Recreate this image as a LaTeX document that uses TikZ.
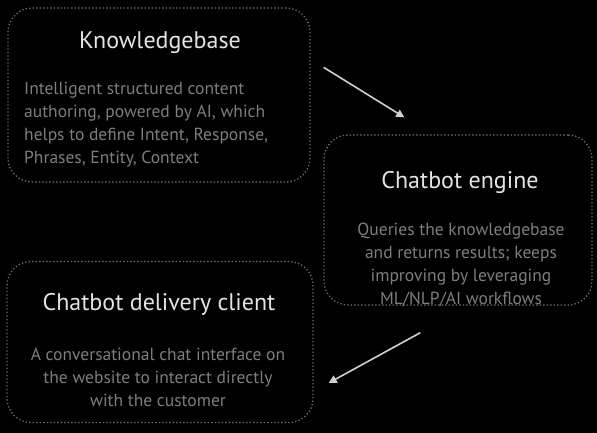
\documentclass[tikz,border=0pt]{standalone}
\usepackage{fontspec}
\setmainfont{PT Sans}
\usetikzlibrary{arrows.meta}
\definecolor{bg}{HTML}{000000}
\definecolor{head}{HTML}{E4E4E4}
\definecolor{muted}{HTML}{7E7E7E}
\definecolor{rim}{HTML}{6E6E6E}
\definecolor{arrowc}{HTML}{D0D0D0}
\tikzset{
  card/.style={draw=rim, line width=1.3pt, dash pattern=on 1.3pt off 2.2pt, rounded corners=24pt, inner sep=0pt},
  title/.style={text=head, font=\fontsize{24}{28}\selectfont},
  body/.style={text=muted, font=\fontsize{17.5}{23}\selectfont, inner sep=0pt},
  flow/.style={draw=arrowc, line width=1.6pt, -{Triangle[length=8pt, width=8pt]}},
}

\begin{document}
\begin{tikzpicture}[x=1pt, y=-1pt]
  \fill[bg] (0,0) rectangle (597,433);
  \useasboundingbox (0,0) rectangle (597,433);

  \node[card, minimum width=302pt, minimum height=174pt] (kb) at (159,95) {};
  \node[card, minimum width=268pt, minimum height=170pt] (engine) at (458,220) {};
  \node[card, minimum width=306pt, minimum height=161pt] (client) at (160,342) {};

  \node[title] (kbtitle) at (160,43) {Knowledgebase};
  \node[body, align=left, anchor=north west] (kbtext) at (24,82)
    {Intelligent structured content\\authoring, powered by AI, which\\helps to define Intent, Response,\\Phrases, Entity, Context};

  \node[title] (enginetitle) at (460,183) {Chatbot engine};
  \node[body, align=center, anchor=north] (enginetext) at (461,223)
    {Queries the knowledgebase\\and returns results; keeps\\improving by leveraging\\ML/NLP/AI workflows};

  \node[title] (clienttitle) at (159,304) {Chatbot delivery client};
  \node[body, align=center, anchor=north] (clienttext) at (158,348)
    {A conversational chat interface on\\the website to interact directly\\with the customer};

  \draw[flow] ([shift={(13,60)}]kb.north east) -- ([shift={(81,-17)}]engine.north west);
  \draw[flow] ([shift={(97,27)}]engine.south west) -- ([shift={(15,41)}]client.east);
\end{tikzpicture}
\end{document}
